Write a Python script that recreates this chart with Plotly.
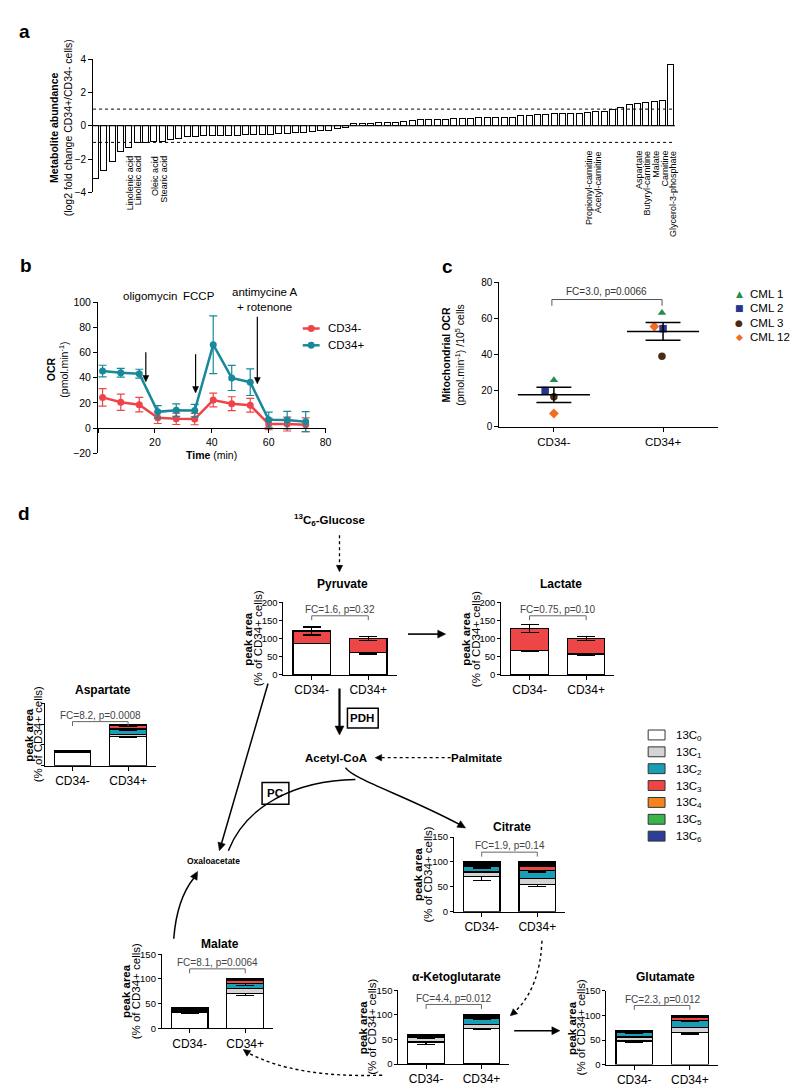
import math
import plotly.graph_objects as go

W, H = 800, 1089
FONT = "Liberation Sans, Arial, Helvetica, sans-serif"
SYM_FONT = "DejaVu Sans, sans-serif"


def X(px):
    return px / W


def Y(py):
    return 1 - py / H


# ---------------- Panel a data ----------------
fold_change_neg = [-3.15, -2.69, -2.14, -1.52, -1.31, -1.01, -0.99, -0.97, -0.93, -0.85, -0.79,
                   -0.67, -0.63, -0.61, -0.61, -0.59, -0.57, -0.57, -0.55, -0.53, -0.51, -0.50,
                   -0.48, -0.44, -0.42, -0.38, -0.34, -0.30, -0.28, -0.18, -0.12]
fold_change_pos = [0.12, 0.14, 0.16, 0.18, 0.20, 0.22, 0.26, 0.34, 0.36, 0.36, 0.40, 0.40, 0.44,
                   0.46, 0.46, 0.48, 0.48, 0.50, 0.50, 0.50, 0.62, 0.64, 0.68, 0.70, 0.74, 0.76,
                   0.76, 0.76, 0.80, 0.86, 0.88, 0.96, 1.10, 1.30, 1.32, 1.40, 1.44, 1.50, 3.70]
labelled_metabolites = ["Linolenic acid", "Linoleic acid", "Oleic acid", "Stearic acid",
                        "Propionyl-carnitine", "Acetyl-carnitine", "Aspartate", "Butyryl-carnitine",
                        "Malate", "Carnitine", "Glycerol-3-phosphate"]
labelled_rank = [5, 6, 8, 9, 60, 61, 66, 67, 68, 69, 70]
a_ticks = [-4, -2, 0, 2, 4]

# ---------------- Panel b data ----------------
time_min = [1.6, 8, 14.5, 21, 27.5, 34, 40.5, 47, 53.5, 60, 66.5, 73]
ocr_cd34neg = [24.4, 20.5, 18.6, 8.1, 7.3, 7.1, 22.3, 19.4, 18.1, 3.1, 3.1, 2.6]
ocr_cd34neg_err = [7, 6.5, 5.8, 4.5, 4.5, 4.5, 5.5, 5.5, 5.5, 4.5, 5.5, 5.5]
ocr_cd34pos = [45.4, 44.0, 43.3, 12.9, 14.2, 13.9, 66.4, 39.9, 36.5, 6.6, 6.3, 5.0]
ocr_cd34pos_err = [4.6, 3.5, 3.5, 5, 5, 5, 23, 10, 10.6, 6, 7, 8]
drug_names = ["oligomycin", "FCCP", "antimycine A<br>+ rotenone"]
drug_time = [16.8, 34.3, 56.0]
b_xticks = [0, 20, 40, 60, 80]
b_yticks = [-20, 0, 20, 40, 60, 80, 100]

# ---------------- Panel c data ----------------
groups = ["CD34-", "CD34+"]
cml_names = ["CML 1", "CML 2", "CML 3", "CML 12"]
cml_ocr_neg = [25.8, 20.0, 16.5, 7.3]
cml_ocr_pos = [63.0, 54.2, 39.0, 55.4]
cml_mean = [17.6, 52.7]
cml_sem = [4.2, 4.9]
c_yticks = [0, 20, 40, 60, 80]

# ---------------- Panel d data (isotopologue peak areas, % of CD34+) ----------------
iso_labels = ["13C<sub>0</sub>", "13C<sub>1</sub>", "13C<sub>2</sub>", "13C<sub>3</sub>",
              "13C<sub>4</sub>", "13C<sub>5</sub>", "13C<sub>6</sub>"]
pyruvate_neg = [86, 0, 0, 35, 0, 0, 0]
pyruvate_pos = [62, 0, 0, 38, 0, 0, 0]
pyruvate_neg_err = [0, 0, 0, 11, 0, 0, 0]
pyruvate_pos_err = [4, 0, 0, 5, 0, 0, 0]
lactate_neg = [68, 0, 0, 60, 0, 0, 0]
lactate_pos = [58, 0, 0, 42, 0, 0, 0]
lactate_neg_err = [3, 0, 0, 12, 0, 0, 0]
lactate_pos_err = [3, 0, 0, 5, 0, 0, 0]
aspartate_neg = [33, 2, 0.6, 0.4, 0, 0, 0]
aspartate_pos = [70, 5, 13, 8, 2, 1, 0.5]
aspartate_neg_err = [2, 0, 0, 0, 0, 0, 0]
aspartate_pos_err = [3, 0, 3, 2, 0, 0, 0]
citrate_neg = [70, 10, 12, 4, 1.5, 1, 1.5]
citrate_pos = [55, 11, 17, 9, 4, 2, 2]
citrate_neg_err = [8, 0, 4, 0, 0, 0, 0]
citrate_pos_err = [5, 0, 3, 0, 0, 0, 0]
akg_neg = [45, 10, 2, 2, 0.5, 0.5, 0]
akg_pos = [73, 7, 12, 4, 2, 1, 1]
akg_neg_err = [5, 2, 0, 0, 0, 0, 0]
akg_pos_err = [3, 0, 2, 0, 0, 0, 0]
glutamate_neg = [48, 8, 9, 3, 1, 1, 0]
glutamate_pos = [65, 10, 15, 6, 2, 1, 1]
glutamate_neg_err = [3, 0, 2, 0, 0, 0, 0]
glutamate_pos_err = [3, 0, 2, 0, 0, 0, 0]
malate_neg = [33, 4, 2, 1.5, 0.5, 0.5, 0]
malate_pos = [70, 10, 10, 7, 2, 1, 1]
malate_neg_err = [3, 0, 0, 0, 0, 0, 0]
malate_pos_err = [3, 0, 3, 0, 0, 0, 0]
fc_texts = ["FC=1.6, p=0.32", "FC=0.75, p=0.10", "FC=8.2, p=0.0008", "FC=1.9, p=0.14",
            "FC=4.4, p=0.012", "FC=2.3, p=0.012", "FC=8.1, p=0.0064"]
met_titles = ["Pyruvate", "Lactate", "Aspartate", "Citrate", "α-Ketoglutarate", "Glutamate", "Malate"]

# ---------------- Styles ----------------
ISO_COLORS = ["#ffffff", "#d4d4d4", "#1a9db6", "#ee4646", "#f5841f", "#3ab54a", "#2b3f95"]
RED = "#ee4449"
TEAL = "#17899b"
CML_COLORS = ["#1f8f4a", "#27358a", "#4b2c12", "#f36b21"]
CML_SYMBOLS = ["triangle-up", "square", "circle", "diamond"]
CML_GLYPHS = ["▲", "■", "●", "◆"]
cml_jitter_neg = [0.0, -0.08, 0.0, 0.0]
cml_jitter_pos = [-0.01, 0.0, -0.01, -0.08]

fig = go.Figure()
annotations = []
shapes = []


def axis_style(**kw):
    d = dict(showgrid=False, zeroline=False, showline=True, linecolor="black", linewidth=1,
             ticks="outside", ticklen=4, tickwidth=1, tickcolor="black",
             tickfont=dict(size=10, color="black", family=FONT))
    d.update(kw)
    return d


def text(px, py, t, size=11, bold=False, angle=0, xa="center", ya="middle", color="black", family=FONT):
    if bold:
        t = "<b>" + t + "</b>"
    annotations.append(dict(x=X(px), y=Y(py), xref="paper", yref="paper", text=t, showarrow=False,
                            font=dict(size=size, color=color, family=family), textangle=angle,
                            xanchor=xa, yanchor=ya))


def P(px, py):
    return f"{X(px):.5f},{Y(py):.5f}"


def path(d, width=1.5, dash="solid", color="black", fill=None):
    s = dict(type="path", xref="paper", yref="paper", path=d,
             line=dict(color=color, width=width, dash=dash))
    if fill:
        s["fillcolor"] = fill
    shapes.append(s)


def head(hx, hy, fx, fy, L=7.0, w=3.4):
    """Filled triangular arrow head at (hx, hy) pointing away from (fx, fy); returns base point."""
    dx, dy = hx - fx, hy - fy
    n = math.hypot(dx, dy)
    ux, uy = dx / n, dy / n
    bx, by = hx - ux * L, hy - uy * L
    px_, py_ = -uy * w, ux * w
    path(f"M{P(hx, hy)} L{P(bx + px_, by + py_)} L{P(bx - px_, by - py_)} Z", width=0.5, fill="black")
    return bx + ux * 1.0, by + uy * 1.0


def arrow(hx, hy, tx, ty, width=1.5, dash="solid", L=7.0, w=3.4):
    bx, by = head(hx, hy, tx, ty, L, w)
    path(f"M{P(tx, ty)} L{P(bx, by)}", width=width, dash=dash)


layout_axes = {}

# ================= Panel a =================
fold_change = fold_change_neg + fold_change_pos
rank = list(range(1, len(fold_change) + 1))
fig.add_bar(x=rank, y=fold_change, xaxis="x", yaxis="y", width=0.72,
            marker=dict(color="white", line=dict(color="black", width=1)), showlegend=False,
            hoverinfo="skip")
a_range = [0.72, len(fold_change) + 0.5]
layout_axes["xaxis"] = dict(domain=[X(85.7), X(672)], range=a_range, visible=False, anchor="y")
layout_axes["yaxis"] = axis_style(domain=[Y(180.3), Y(45.7)], range=[-4, 4], tickvals=a_ticks,
                                  anchor="x")
for yv, dash in [(0, "solid"), (1, "dot"), (-1, "dot")]:
    shapes.append(dict(type="line", xref="x", yref="y", x0=a_range[0], x1=a_range[1], y0=yv, y1=yv,
                       line=dict(color="black", width=1.2 if yv == 0 else 1, dash=dash), layer="above"))
for name, r in zip(labelled_metabolites, labelled_rank):
    top = 141 if r < 30 else 136
    annotations.append(dict(x=r + 0.2, y=Y(top), xref="x", yref="paper", text=name, showarrow=False,
                            textangle=-90, xanchor="center", yanchor="top",
                            font=dict(size=9, color="black", family=FONT)))
text(53, 115, "<b>Metabolite abundance</b><br>(log2 fold change CD34+/CD34- cells)", size=10.5,
     angle=-90)
text(17, 18, "a", size=19, bold=True)

# ================= Panel b =================
fig.add_scatter(x=time_min, y=ocr_cd34neg, xaxis="x2", yaxis="y2", mode="lines+markers",
                line=dict(color=RED, width=2.5), marker=dict(color=RED, size=7),
                error_y=dict(type="data", array=ocr_cd34neg_err, color=RED, thickness=1.2, width=4),
                showlegend=False)
fig.add_scatter(x=time_min, y=ocr_cd34pos, xaxis="x2", yaxis="y2", mode="lines+markers",
                line=dict(color=TEAL, width=2.5), marker=dict(color=TEAL, size=7),
                error_y=dict(type="data", array=ocr_cd34pos_err, color=TEAL, thickness=1.2, width=4),
                showlegend=False)
B_X0, B_X1, B_Y0, B_YT = 90.7, 320.0, 418.7, 291.7   # px of x=0, x=80, y=0, y=100
layout_axes["xaxis2"] = axis_style(domain=[X(B_X0), X(B_X1)], range=[0, 80], tickvals=b_xticks,
                                   ticktext=[""] + [str(v) for v in b_xticks[1:]], anchor="free",
                                   position=Y(B_Y0), tickfont=dict(size=10.5, family=FONT, color="black"))
layout_axes["yaxis2"] = axis_style(domain=[Y(444), Y(B_YT)], range=[-20, 100], tickvals=b_yticks,
                                   anchor="x2", tickfont=dict(size=10.5, family=FONT, color="black"))


def bpx(t):
    return B_X0 + t / 80 * (B_X1 - B_X0)


def bpy(v):
    return B_Y0 - v / 100 * (B_Y0 - B_YT)


arrow_tops = [60.3, 58.8, 88.6]
arrow_heads = [36.8, 28.0, 35.2]
for t, vt, vh in zip(drug_time, arrow_tops, arrow_heads):
    arrow(bpx(t), bpy(vh), bpx(t), bpy(vt), width=1.2, L=6.5, w=3.0)
text(142.7, 285, drug_names[0], size=11.5)
text(192.7, 285, drug_names[1], size=11.5)
text(258.7, 289, drug_names[2], size=11.5)
# legend b
for yy, col, lab in [(318, RED, "CD34-"), (335, TEAL, "CD34+")]:
    shapes.append(dict(type="line", xref="paper", yref="paper", x0=X(297), x1=X(314), y0=Y(yy), y1=Y(yy),
                       line=dict(color=col, width=2.5)))
    shapes.append(dict(type="circle", xref="paper", yref="paper", x0=X(302), x1=X(309),
                       y0=Y(yy + 3.5), y1=Y(yy - 3.5), fillcolor=col, line=dict(color=col, width=0)))
    text(320, yy, lab, size=11.5, xa="left")
text(50, 360, "<b>OCR</b><br>(pmol.min<sup>-1</sup>)", size=10.5, angle=-90)
text(205, 446, "<b>Time</b> (min)", size=10.5)
text(18, 254, "b", size=19, bold=True)

# ================= Panel c =================
for i in range(len(cml_names)):
    fig.add_scatter(x=[1 + cml_jitter_neg[i], 2 + cml_jitter_pos[i]], y=[cml_ocr_neg[i], cml_ocr_pos[i]],
                    xaxis="x3", yaxis="y3", mode="markers",
                    marker=dict(symbol=CML_SYMBOLS[i], color=CML_COLORS[i], size=7.5), showlegend=False,
                    cliponaxis=False)
for g in range(2):
    cx = g + 1
    m, s = cml_mean[g], cml_sem[g]
    fig.add_scatter(x=[cx - 0.33, cx + 0.33], y=[m, m], xaxis="x3", yaxis="y3", mode="lines",
                    line=dict(color="black", width=1.5), showlegend=False)
    for yy in (m + s, m - s):
        fig.add_scatter(x=[cx - 0.16, cx + 0.16], y=[yy, yy], xaxis="x3", yaxis="y3", mode="lines",
                        line=dict(color="black", width=1.5), showlegend=False)
    fig.add_scatter(x=[cx, cx], y=[m - s, m + s], xaxis="x3", yaxis="y3", mode="lines",
                    line=dict(color="black", width=1.5), showlegend=False)
layout_axes["xaxis3"] = axis_style(domain=[X(495), X(715)], range=[0.5, 2.5], tickvals=[1, 2],
                                   ticktext=groups, anchor="y3",
                                   tickfont=dict(size=11.5, family=FONT, color="black"))
layout_axes["yaxis3"] = axis_style(domain=[Y(417.3), Y(271)], range=[0, 80], tickvals=c_yticks,
                                   anchor="x3", tickfont=dict(size=10, family=FONT, color="black"))
path(f"M{P(548, 295)} L{P(548, 288.7)} L{P(659, 288.7)} L{P(659, 295)}", width=1, color="#555")
text(603, 281, "FC=3.0, p=0.0066", size=10, color="#333")
for i, (nm, col, gl) in enumerate(zip(cml_names, CML_COLORS, CML_GLYPHS)):
    yy = 283.3 + i * 14.4
    text(737, yy, gl, size=9, color=col, family=SYM_FONT)
    text(746, yy, nm, size=11.5, xa="left")
text(449, 345, "<b>Mitochondrial OCR</b><br>(pmol.min<sup>-1</sup>) /10<sup>5</sup> cells", size=10.5,
     angle=-90)
text(443, 255, "c", size=19, bold=True)

# ================= Panel d: stacked isotopologue bars =================
met_neg = [pyruvate_neg, lactate_neg, aspartate_neg, citrate_neg, akg_neg, glutamate_neg, malate_neg]
met_pos = [pyruvate_pos, lactate_pos, aspartate_pos, citrate_pos, akg_pos, glutamate_pos, malate_pos]
met_neg_err = [pyruvate_neg_err, lactate_neg_err, aspartate_neg_err, citrate_neg_err, akg_neg_err,
               glutamate_neg_err, malate_neg_err]
met_pos_err = [pyruvate_pos_err, lactate_pos_err, aspartate_pos_err, citrate_pos_err, akg_pos_err,
               glutamate_pos_err, malate_pos_err]
# (left px, right px, zero-line px, top-line px, y max, title px, fc-text px)
met_boxes = [
    (277.5, 391.5, 668.3, 595.0, 200, 576, 602),
    (497.0, 611.0, 668.3, 595.0, 200, 576, 602),
    (37.0, 149.0, 760.0, 697.0, 150, 684, 709),
    (449.3, 561.3, 907.7, 832.3, 150, 822, 841),
    (393.3, 505.0, 1061.7, 987.3, 150, 974, 995),
    (603.0, 715.0, 1062.3, 987.7, 150, 974, 996),
    (155.0, 267.0, 1025.7, 950.7, 150, 940, 959),
]
for k in range(len(met_titles)):
    xa, ya = f"x{k + 4}", f"y{k + 4}"
    x0, x1, yb, yt, ymax, ty, fy = met_boxes[k]
    for g, (vals, errs) in enumerate([(met_neg[k], met_neg_err[k]), (met_pos[k], met_pos_err[k])]):
        for j in range(len(iso_labels)):
            if vals[j] <= 0:
                continue
            bar = dict(x=[g + 1], y=[vals[j]], xaxis=xa, yaxis=ya, width=0.66,
                       marker=dict(color=ISO_COLORS[j], line=dict(color="black", width=1.2)),
                       showlegend=False, hoverinfo="skip")
            if errs[j] > 0:
                bar["error_y"] = dict(type="data", array=[errs[j]], color="black", thickness=1.2, width=9)
            fig.add_bar(**bar)
    tv = list(range(0, ymax + 1, 50))
    layout_axes[f"xaxis{k + 4}"] = axis_style(domain=[X(x0), X(x1)], range=[0.5, 2.5], tickvals=[1, 2],
                                             ticktext=groups, anchor=ya,
                                             tickfont=dict(size=12, family=FONT, color="black"))
    layout_axes[f"yaxis{k + 4}"] = axis_style(domain=[Y(yb), Y(yt)], range=[0, ymax], tickvals=tv,
                                             anchor=xa, showticklabels=(k != 2), ticklen=3,
                                             tickfont=dict(size=9.5, family=FONT, color="black"))
    c1 = x0 + (x1 - x0) * 0.25
    c2 = x0 + (x1 - x0) * 0.75
    text((x0 + x1) / 2 + 3, ty, met_titles[k], size=12, bold=True)
    text((c1 + c2) / 2, fy, fc_texts[k], size=10, color="#444")
    path(f"M{P(c1, fy + 11)} L{P(c1, fy + 6.5)} L{P(c2, fy + 6.5)} L{P(c2, fy + 11)}", width=1,
         color="#666")
    ymid = (yb + yt) / 2
    tx = x0 - 31 if k != 2 else 26
    text(tx - 4.5, ymid, "peak area", size=11.5, bold=True, angle=-90)
    text(tx + 5, ymid, "(% of CD34+ cells)", size=11.5, angle=-90)

# isotopologue legend
for j, lab in enumerate(iso_labels):
    yy = 729 + j * 17.05
    shapes.append(dict(type="rect", xref="paper", yref="paper", x0=X(645), x1=X(662), y0=Y(yy + 5),
                       y1=Y(yy - 5), fillcolor=ISO_COLORS[j], line=dict(color="#333", width=1)))
    text(671, yy + 1, lab, size=11.5, xa="left")

# pathway labels
text(324, 512, "<sup>13</sup>C<sub>6</sub>-Glucose", size=11.5, bold=True)
text(330, 752, "Acetyl-CoA", size=11.5, bold=True)
text(472, 752, "Palmitate", size=11.5, bold=True)
text(207, 856, "Oxaloacetate", size=8.5, bold=True)
text(357, 712, "PDH", size=11.5, bold=True)
shapes.append(dict(type="rect", xref="paper", yref="paper", x0=X(342), x1=X(373), y0=Y(722),
                   y1=Y(702), line=dict(color="black", width=1.5)))
text(269, 788, "PC", size=11.5, bold=True)
shapes.append(dict(type="rect", xref="paper", yref="paper", x0=X(256), x1=X(283), y0=Y(799),
                   y1=Y(777), line=dict(color="black", width=1.5)))
text(16, 505, "d", size=19, bold=True)

# pathway arrows
arrow(334, 564, 334, 527, width=1.3, dash="dot", L=6.5, w=3.2)          # glucose -> pyruvate
arrow(441, 627, 403, 627, width=1.6, L=8, w=4)                          # pyruvate -> lactate
arrow(334, 729, 334, 682, width=2.2, L=9, w=4.5)                        # PDH
arrow(370, 752, 446, 752, width=1.3, dash="dot", L=6.5, w=3.2)          # palmitate
arrow(213, 846, 262, 677, width=1.5, L=8, w=3.8)                        # PC
path(f"M{P(222, 846)} C{P(240, 800)} {P(290, 775)} {P(350, 774)}", width=1.5)
bx, by = head(461, 823, 449, 816, L=8, w=3.8)
path(f"M{P(340, 762)} C{P(348, 774)} {P(400, 790)} {P(bx, by)}", width=1.5)
bx, by = head(191, 867, 185, 878, L=8, w=3.8)
path(f"M{P(167, 935)} Q{P(170, 895)} {P(bx, by)}", width=1.5)
bx, by = head(506, 1013, 515, 1005, L=7, w=3.4)
path(f"M{P(538, 937)} Q{P(536, 985)} {P(bx, by)}", width=1.4, dash="dot")
arrow(556, 1028, 510, 1028, width=1.6, L=8, w=4)                        # aKG -> glutamate
bx, by = head(237, 1047, 247, 1054, L=7, w=3.4)
path(f"M{P(377, 1073)} Q{P(290, 1076)} {P(bx, by)}", width=1.4, dash="dot")

fig.update_layout(width=W, height=H, margin=dict(l=0, r=0, t=0, b=0), paper_bgcolor="white",
                  plot_bgcolor="rgba(0,0,0,0)", barmode="stack", showlegend=False,
                  font=dict(family=FONT, color="black", size=10), annotations=annotations,
                  shapes=shapes, **layout_axes)

fig.write_html("out.html")
